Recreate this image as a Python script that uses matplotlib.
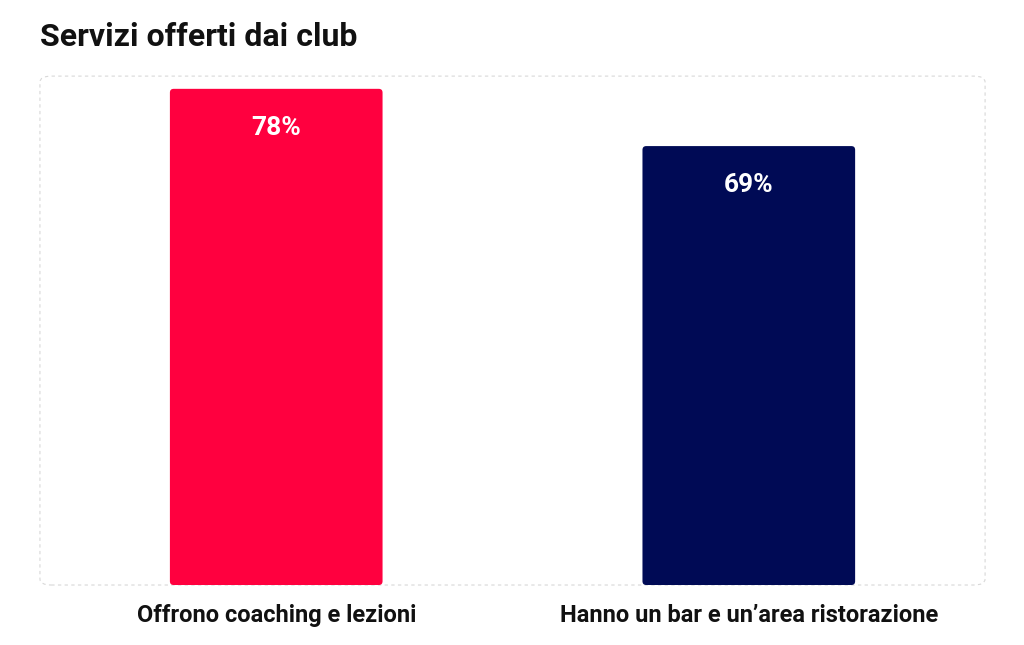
import matplotlib.pyplot as plt
from matplotlib.patches import FancyBboxPatch

categories = ["Offrono coaching e lezioni", "Hanno un bar e un’area ristorazione"]
values = [78, 69]
colors = ["#FF003F", "#000A55"]

plt.rcParams['font.family'] = ['Roboto', 'DejaVu Sans']

fig = plt.figure(figsize=(10.24, 6.45), dpi=100)
ax = fig.add_axes([0.039, 0.093, 0.923, 0.789])

x = range(len(categories))
bars = ax.bar(x, values, width=0.45, color=colors)

ax.set_xlim(-0.5, 1.5)
ax.set_ylim(0, 80)

# swap the plain bars for slightly rounded ones (same geometry)
for bar in bars:
    bar.set_visible(False)
    rb = FancyBboxPatch((bar.get_x(), 0), bar.get_width(), bar.get_height(),
                        boxstyle="round,pad=0,rounding_size=0.008", mutation_aspect=74,
                        facecolor=bar.get_facecolor(), edgecolor="none")
    ax.add_patch(rb)

for bar, v in zip(bars, values):
    ax.annotate(f"{v}%", xy=(bar.get_x() + bar.get_width() / 2, v),
                xytext=(0, -28), textcoords="offset points",
                ha="center", va="center", color="white",
                fontsize=19, fontweight="bold")

ax.set_yticks([])
ax.set_xticks(list(x))
ax.set_xticklabels(categories, fontsize=17, fontweight="bold", color="#111111")
ax.tick_params(axis="x", length=0, pad=14)
for s in ax.spines.values():
    s.set_visible(False)

# dashed rounded frame round the plot area
frame = FancyBboxPatch((0, 0), 1, 1, boxstyle="round,pad=0,rounding_size=0.012",
                       transform=ax.transAxes, fill=False, edgecolor="#D8D8D8",
                       linestyle=(0, (3, 3)), linewidth=0.8, clip_on=False, zorder=0)
ax.add_patch(frame)

fig.text(0.039, 0.942, "Servizi offerti dai club", fontsize=23, fontweight="bold",
         ha="left", va="center", color="#111111")

fig.savefig("out.png", dpi=100, facecolor="white")
